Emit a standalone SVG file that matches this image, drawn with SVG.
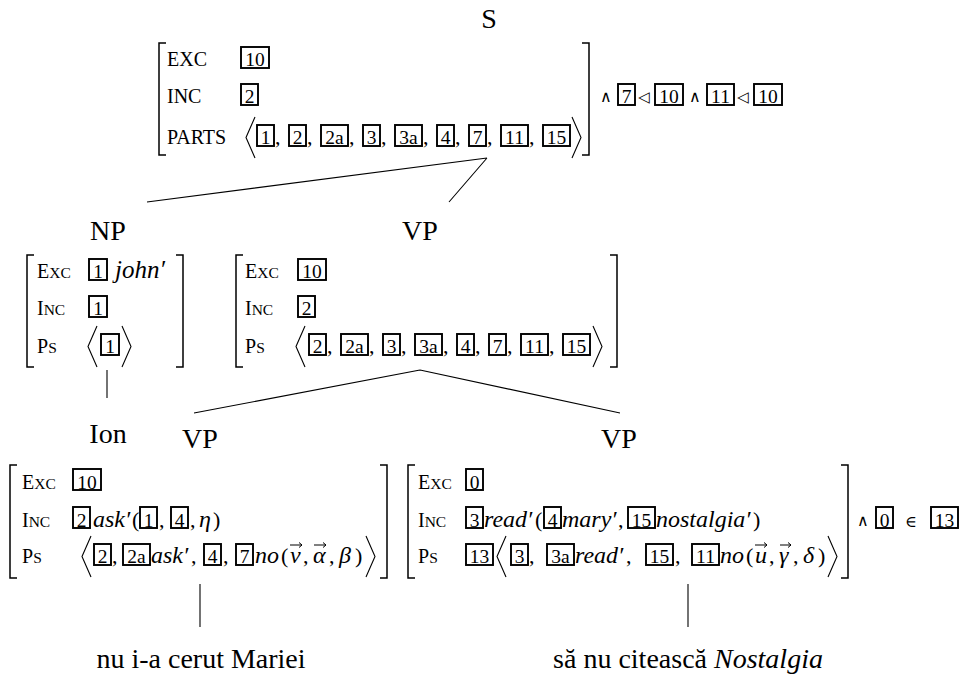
<svg xmlns="http://www.w3.org/2000/svg" width="967" height="677" viewBox="0 0 967 677">
<style>
text{font-family:"Liberation Serif",serif;fill:#000}
.lbl{font-size:28px;text-anchor:middle}
.k{font-size:20px}
.s{font-size:15.5px}
.n{font-size:19.5px;text-anchor:middle}
.m{font-size:24px;font-style:italic}
.p{font-size:22px}
.sym{font-family:"DejaVu Serif",serif;font-size:16px}
.tri{font-family:"DejaVu Sans",sans-serif;font-size:15px}
rect{fill:none;stroke:#000;stroke-width:1.9}
.br{fill:none;stroke:#000;stroke-width:1.5}
.ab{fill:none;stroke:#000;stroke-width:1.1}
.ln{fill:none;stroke:#000;stroke-width:1.1}
.vec{fill:none;stroke:#000;stroke-width:1}
</style>
<rect x="0" y="0" width="967" height="677" style="fill:#fff;stroke:none"/>

<g id="connectors">
<path class="ln" d="M487,158 L147,202 M487,158 L449,202"/>
<path class="ln" d="M107,370 V398"/>
<path class="ln" d="M420,370 L194,413 M420,370 L620,413"/>
<path class="ln" d="M200,584 V627"/>
<path class="ln" d="M688,584 V627"/>
</g>

<g id="node-S">
<text class="lbl" x="489" y="28">S</text>
<path class="br" d="M166,43 H159 V155 H166 M582,43 H589 V155 H582"/>
<text class="k" x="167" y="66">EXC</text>
<text class="k" x="167" y="103">INC</text>
<text class="k" x="167" y="144">PARTS</text>
<rect x="241" y="47" width="28" height="21"/><text class="n" x="255" y="66">10</text>
<rect x="241" y="84" width="17" height="21"/><text class="n" x="249.5" y="103">2</text>
<path class="ab" d="M255,117 L246,137.5 L255,158"/>
<rect x="257" y="125" width="17" height="21"/><text class="n" x="265.5" y="144">1</text><text class="p" x="275" y="144">,</text>
<rect x="289" y="125" width="17" height="21"/><text class="n" x="297.5" y="144">2</text><text class="p" x="307" y="144">,</text>
<rect x="321" y="125" width="27" height="21"/><text class="n" x="334.5" y="144">2a</text><text class="p" x="349" y="144">,</text>
<rect x="363" y="125" width="17" height="21"/><text class="n" x="371.5" y="144">3</text><text class="p" x="381" y="144">,</text>
<rect x="395" y="125" width="27" height="21"/><text class="n" x="408.5" y="144">3a</text><text class="p" x="423" y="144">,</text>
<rect x="437" y="125" width="17" height="21"/><text class="n" x="445.5" y="144">4</text><text class="p" x="455" y="144">,</text>
<rect x="469" y="125" width="17" height="21"/><text class="n" x="477.5" y="144">7</text><text class="p" x="487" y="144">,</text>
<rect x="501" y="125" width="27" height="21"/><text class="n" x="514.5" y="144">11</text><text class="p" x="529" y="144">,</text>
<rect x="543" y="125" width="27" height="21"/><text class="n" x="556.5" y="144">15</text>
<path class="ab" d="M572,117 L581,137.5 L572,158"/>
<text class="sym" x="600" y="102">∧</text>
<rect x="618" y="84" width="17" height="21"/><text class="n" x="626.5" y="103">7</text>
<text class="tri" x="638" y="102">◁</text>
<rect x="655" y="84" width="28" height="21"/><text class="n" x="669" y="103">10</text>
<text class="sym" x="689" y="102">∧</text>
<rect x="707" y="84" width="27" height="21"/><text class="n" x="720.5" y="103">11</text>
<text class="tri" x="737" y="102">◁</text>
<rect x="754" y="84" width="28" height="21"/><text class="n" x="768" y="103">10</text>
</g>

<g id="node-NP">
<text class="lbl" x="108" y="240">NP</text>
<path class="br" d="M34,255 H27 V367 H34 M176,255 H183 V367 H176"/>
<text class="k" x="37" y="278">E<tspan class="s">XC</tspan></text>
<text class="k" x="37" y="315">I<tspan class="s">NC</tspan></text>
<text class="k" x="37" y="353">P<tspan class="s">S</tspan></text>
<rect x="89" y="259" width="18" height="21"/><text class="n" x="98" y="278">1</text>
<text class="m" x="115" y="278" style="font-size:25px">john′</text>
<rect x="89" y="296" width="18" height="21"/><text class="n" x="98" y="315">1</text>
<path class="ab" d="M97,326 L88,346.5 L97,367"/>
<rect x="101" y="334" width="18" height="21"/><text class="n" x="110" y="353">1</text>
<path class="ab" d="M122,326 L131,346.5 L122,367"/>
</g>

<g id="node-VP">
<text class="lbl" x="420" y="240">VP</text>
<path class="br" d="M243,255 H236 V367 H243 M610,255 H617 V367 H610"/>
<text class="k" x="245" y="278">E<tspan class="s">XC</tspan></text>
<text class="k" x="245" y="315">I<tspan class="s">NC</tspan></text>
<text class="k" x="245" y="353">P<tspan class="s">S</tspan></text>
<rect x="298" y="259" width="28" height="21"/><text class="n" x="312" y="278">10</text>
<rect x="298" y="296" width="17" height="21"/><text class="n" x="306.5" y="315">2</text>
<path class="ab" d="M305,326 L296,346.5 L305,367"/>
<rect x="309" y="334" width="17" height="21"/><text class="n" x="317.5" y="353">2</text><text class="p" x="327" y="353">,</text>
<rect x="341" y="334" width="27" height="21"/><text class="n" x="354.5" y="353">2a</text><text class="p" x="369" y="353">,</text>
<rect x="383" y="334" width="17" height="21"/><text class="n" x="391.5" y="353">3</text><text class="p" x="401" y="353">,</text>
<rect x="415" y="334" width="27" height="21"/><text class="n" x="428.5" y="353">3a</text><text class="p" x="443" y="353">,</text>
<rect x="457" y="334" width="17" height="21"/><text class="n" x="465.5" y="353">4</text><text class="p" x="475" y="353">,</text>
<rect x="489" y="334" width="17" height="21"/><text class="n" x="497.5" y="353">7</text><text class="p" x="507" y="353">,</text>
<rect x="521" y="334" width="27" height="21"/><text class="n" x="534.5" y="353">11</text><text class="p" x="549" y="353">,</text>
<rect x="563" y="334" width="27" height="21"/><text class="n" x="576.5" y="353">15</text>
<path class="ab" d="M593,326 L602,346.5 L593,367"/>
</g>

<g id="node-Ion">
<text class="lbl" x="108" y="443">Ion</text>
</g>

<g id="node-VP-ask">
<text class="lbl" x="200" y="448">VP</text>
<path class="br" d="M17,465 H10 V578 H17 M380,465 H387 V578 H380"/>
<text class="k" x="22" y="489">E<tspan class="s">XC</tspan></text>
<text class="k" x="22" y="527">I<tspan class="s">NC</tspan></text>
<text class="k" x="22" y="563">P<tspan class="s">S</tspan></text>
<rect x="73" y="469" width="28" height="21"/><text class="n" x="87" y="489">10</text>
<rect x="73" y="507" width="17" height="21"/><text class="n" x="81.5" y="527">2</text>
<text class="m" x="93" y="527">ask′</text><text class="p" x="132" y="527">(</text>
<rect x="140" y="507" width="17" height="21"/><text class="n" x="148.5" y="527">1</text><text class="p" x="159" y="527">,</text>
<rect x="171" y="507" width="17" height="21"/><text class="n" x="179.5" y="527">4</text><text class="p" x="190" y="527">,</text>
<text class="m" x="199" y="527">η</text><text class="p" x="213" y="527">)</text>
<path class="ab" d="M91,536 L82,556.5 L91,577"/>
<rect x="94" y="544" width="17" height="21"/><text class="n" x="102.5" y="563">2</text><text class="p" x="112" y="563">,</text>
<rect x="123" y="544" width="27" height="21"/><text class="n" x="136.5" y="563">2a</text>
<text class="m" x="151" y="563">ask′</text><text class="p" x="191" y="563">,</text>
<rect x="204" y="544" width="17" height="21"/><text class="n" x="212.5" y="563">4</text><text class="p" x="223" y="563">,</text>
<rect x="236" y="544" width="17" height="21"/><text class="n" x="244.5" y="563">7</text>
<text class="m" x="255" y="563">no</text><text class="p" x="281" y="563">(</text>
<text class="m" x="290" y="563">v</text><path class="vec" d="M290,545 H302 M299,542.5 L302,545 L299,547.5"/>
<text class="p" x="303" y="563">,</text>
<text class="m" x="313" y="563">α</text><path class="vec" d="M314,545 H326 M323,542.5 L326,545 L323,547.5"/>
<text class="p" x="329" y="563">,</text>
<text class="m" x="339" y="563">β</text><text class="p" x="355" y="563">)</text>
<path class="ab" d="M366,536 L375,556.5 L366,577"/>
</g>

<g id="node-VP-read">
<text class="lbl" x="619" y="448">VP</text>
<path class="br" d="M415,465 H408 V578 H415 M841,465 H848 V578 H841"/>
<text class="k" x="418" y="489">E<tspan class="s">XC</tspan></text>
<text class="k" x="418" y="527">I<tspan class="s">NC</tspan></text>
<text class="k" x="418" y="563">P<tspan class="s">S</tspan></text>
<rect x="466" y="469" width="17" height="21"/><text class="n" x="474.5" y="489">0</text>
<rect x="466" y="507" width="17" height="21"/><text class="n" x="474.5" y="527">3</text>
<text class="m" x="484" y="527">read′</text><text class="p" x="535" y="527">(</text>
<rect x="544" y="507" width="17" height="21"/><text class="n" x="552.5" y="527">4</text>
<text class="m" x="562" y="527">mary′</text><text class="p" x="618" y="527">,</text>
<rect x="628" y="507" width="27" height="21"/><text class="n" x="641.5" y="527">15</text>
<text class="m" x="656" y="527">nostalgia′</text><text class="p" x="753" y="527">)</text>
<rect x="466" y="544" width="27" height="21"/><text class="n" x="479.5" y="563">13</text>
<path class="ab" d="M506,536 L497,556.5 L506,577"/>
<rect x="511" y="544" width="17" height="21"/><text class="n" x="519.5" y="563">3</text><text class="p" x="529" y="563">,</text>
<rect x="547" y="544" width="27" height="21"/><text class="n" x="560.5" y="563">3a</text>
<text class="m" x="575" y="563">read′</text><text class="p" x="626" y="563">,</text>
<rect x="646" y="544" width="27" height="21"/><text class="n" x="659.5" y="563">15</text><text class="p" x="675" y="563">,</text>
<rect x="692" y="544" width="27" height="21"/><text class="n" x="705.5" y="563">11</text>
<text class="m" x="720" y="563">no</text><text class="p" x="746" y="563">(</text>
<text class="m" x="755" y="563">u</text><path class="vec" d="M755,545 H767 M764,542.5 L767,545 L764,547.5"/>
<text class="p" x="769" y="563">,</text>
<text class="m" x="779" y="563">γ</text><path class="vec" d="M780,545 H791 M788,542.5 L791,545 L788,547.5"/>
<text class="p" x="793" y="563">,</text>
<text class="m" x="803" y="563">δ</text><text class="p" x="818" y="563">)</text>
<path class="ab" d="M828,536 L837,556.5 L828,577"/>
<text class="sym" x="857" y="526">∧</text>
<rect x="876" y="507" width="17" height="21"/><text class="n" x="884.5" y="527">0</text>
<text class="sym" x="905" y="527">∈</text>
<rect x="931" y="507" width="27" height="21"/><text class="n" x="944.5" y="527">13</text>
</g>

<g id="leaf-left">
<text class="lbl" x="201" y="668">nu i-a cerut Mariei</text>
</g>
<g id="leaf-right">
<text class="lbl" x="688" y="668">să nu citească <tspan font-style="italic">Nostalgia</tspan></text>
</g>
</svg>
